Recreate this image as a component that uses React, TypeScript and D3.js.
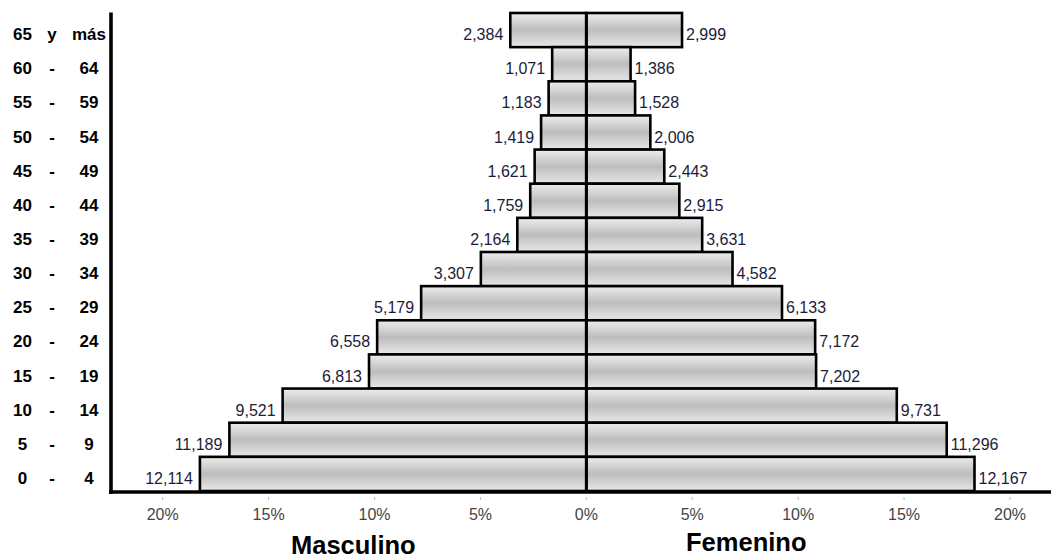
import React from "react";
import * as d3 from "d3";

const ageStart = ["65", "60", "55", "50", "45", "40", "35", "30", "25", "20", "15", "10", "5", "0"];
const ageSep = ["y", "-", "-", "-", "-", "-", "-", "-", "-", "-", "-", "-", "-", "-"];
const ageEnd = ["más", "64", "59", "54", "49", "44", "39", "34", "29", "24", "19", "14", "9", "4"];
const maleValues = [2384, 1071, 1183, 1419, 1621, 1759, 2164, 3307, 5179, 6558, 6813, 9521, 11189, 12114];
const femaleValues = [2999, 1386, 1528, 2006, 2443, 2915, 3631, 4582, 6133, 7172, 7202, 9731, 11296, 12167];
const xTicks = [-20, -15, -10, -5, 0, 5, 10, 15, 20];
const TOTAL = 66400;

const W = 1051;
const H = 559;
const FONT = "'Liberation Sans', Arial, sans-serif";

export default function App() {
  const x = d3.scaleLinear().domain([-20, 20]).range([162.7, 1010]);
  const y = d3
    .scaleBand<number>()
    .domain(d3.range(ageStart.length))
    .range([13, 491])
    .padding(0);
  const pct = (v: number) => (v / TOTAL) * 100;
  const fmt = d3.format(",");
  const x0 = x(0);
  const bw = y.bandwidth();

  return (
    <svg
      width={W}
      height={H}
      style={{ position: "absolute", left: 0, top: 0, background: "#fff" }}
      fontFamily={FONT}
    >
      <defs>
        <linearGradient id="barGrad" x1="0" y1="0" x2="0" y2="1">
          <stop offset="0%" stopColor="#ededed" />
          <stop offset="50%" stopColor="#bdbdbd" />
          <stop offset="100%" stopColor="#e8e8e8" />
        </linearGradient>
      </defs>
      <rect x={0} y={0} width={W} height={H} fill="#fff" />

      {maleValues.map((v, i) => (
        <rect
          key={"m" + i}
          x={x(-pct(v))}
          y={y(i)!}
          width={x0 - x(-pct(v))}
          height={bw}
          fill="url(#barGrad)"
          stroke="#000"
          strokeWidth={2.6}
        />
      ))}
      {femaleValues.map((v, i) => (
        <rect
          key={"f" + i}
          x={x0}
          y={y(i)!}
          width={x(pct(v)) - x0}
          height={bw}
          fill="url(#barGrad)"
          stroke="#000"
          strokeWidth={2.6}
        />
      ))}

      <line x1={x0} x2={x0} y1={13} y2={491} stroke="#000" strokeWidth={3} />
      <line x1={111} x2={111} y1={12.5} y2={494} stroke="#000" strokeWidth={3.6} />
      <line x1={109} x2={W} y1={492} y2={492} stroke="#000" strokeWidth={3.6} />

      {maleValues.map((v, i) => (
        <text
          key={"ml" + i}
          x={x(-pct(v)) - 7}
          y={y(i)! + bw / 2 + 10}
          textAnchor="end"
          fontSize={16}
          fill="#1c1c3a"
        >
          {fmt(v)}
        </text>
      ))}
      {femaleValues.map((v, i) => (
        <text
          key={"fl" + i}
          x={x(pct(v)) + 4}
          y={y(i)! + bw / 2 + 10}
          textAnchor="start"
          fontSize={16}
          fill="#1c1c3a"
        >
          {fmt(v)}
        </text>
      ))}

      {ageStart.map((s, i) => (
        <g key={"a" + i} fontWeight="bold" fontSize={17} fill="#000" textAnchor="middle">
          <text x={22.5} y={y(i)! + bw / 2 + 10}>{s}</text>
          <text x={52} y={y(i)! + bw / 2 + 10}>{ageSep[i]}</text>
          <text x={89} y={y(i)! + bw / 2 + 10}>{ageEnd[i]}</text>
        </g>
      ))}

      {xTicks.map((t) => (
        <g key={"t" + t}>
          <line x1={x(t)} x2={x(t)} y1={497} y2={500} stroke="#bbb" strokeWidth={1} />
          <text x={x(t)} y={520} textAnchor="middle" fontSize={16} fill="#444">
            {Math.abs(t) + "%"}
          </text>
        </g>
      ))}

      <text x={x(-11)} y={554} textAnchor="middle" fontSize={25.5} fontWeight="bold" fill="#000">
        Masculino
      </text>
      <text x={x(7.55)} y={551} textAnchor="middle" fontSize={25.5} fontWeight="bold" fill="#000">
        Femenino
      </text>
    </svg>
  );
}
